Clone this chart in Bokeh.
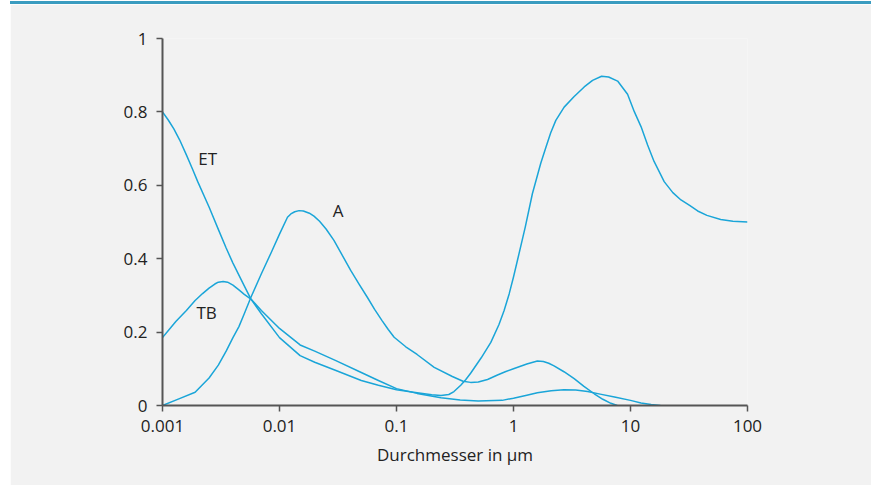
from bokeh.plotting import figure
from bokeh.models import Range1d, FixedTicker
from bokeh.core.properties import value
from bokeh.embed import file_html
from bokeh.resources import INLINE

# ---- data ----
et_x = [0.001, 0.00112, 0.00125, 0.0014, 0.0016, 0.0018, 0.002, 0.0025, 0.003, 0.0035, 0.004,
        0.005, 0.0057, 0.007, 0.01, 0.015, 0.02, 0.03, 0.05, 0.07, 0.1, 0.15, 0.2, 0.24,
        0.28, 0.31, 0.354, 0.39, 0.43, 0.53, 0.64, 0.75, 0.83, 0.918, 1.0, 1.08, 1.26, 1.45,
        1.71, 1.89, 2.08, 2.3, 2.71, 3.3, 4.02, 4.74, 5.66, 6.5, 7.76, 9.44, 10.8, 12.3, 14.0,
        15.9, 19.4, 23.0, 27.0, 32.0, 37.5, 45.0, 59.0, 75.0, 100.0]
et_y = [0.80, 0.778, 0.754, 0.724, 0.683, 0.645, 0.61, 0.541, 0.48, 0.429, 0.388,
        0.326, 0.29, 0.25, 0.185, 0.136, 0.118, 0.096, 0.068, 0.055, 0.043, 0.035, 0.029, 0.027,
        0.03, 0.038, 0.055, 0.07, 0.088, 0.13, 0.172, 0.22, 0.258, 0.304, 0.35, 0.395, 0.486, 0.577,
        0.66, 0.703, 0.743, 0.777, 0.813, 0.842, 0.868, 0.886, 0.897, 0.895, 0.884, 0.848, 0.80, 0.76, 0.71,
        0.665, 0.61, 0.58, 0.56, 0.545, 0.53, 0.518, 0.507, 0.502, 0.50]

tb_x = [0.001, 0.0013, 0.0016, 0.0019, 0.0022, 0.0025, 0.0028, 0.003, 0.0033, 0.0036, 0.004,
        0.0045, 0.005, 0.0057, 0.007, 0.01, 0.015, 0.02, 0.03, 0.05, 0.07, 0.1, 0.15, 0.24,
        0.35, 0.5, 0.8, 1.0, 1.3, 1.6, 2.1, 2.7, 3.4, 4.3, 5.5, 7.3, 10.0, 12.3, 15.0, 18.0]
tb_y = [0.185, 0.229, 0.259, 0.286, 0.305, 0.32, 0.331, 0.336, 0.338, 0.336, 0.328,
        0.315, 0.303, 0.29, 0.259, 0.21, 0.165, 0.148, 0.123, 0.09, 0.068, 0.046, 0.033, 0.021,
        0.015, 0.012, 0.014, 0.02, 0.028, 0.035, 0.04, 0.043, 0.042, 0.038, 0.031, 0.023, 0.014, 0.007, 0.003, 0.0]

a_x = [0.001, 0.00138, 0.0019, 0.0025, 0.003, 0.0035, 0.004, 0.0045, 0.005, 0.0057, 0.007,
       0.0085, 0.01, 0.0117, 0.0125, 0.0135, 0.0147, 0.016, 0.018, 0.0197, 0.022, 0.025,
       0.0292, 0.035, 0.0406, 0.048, 0.0563, 0.065, 0.075, 0.085, 0.0955, 0.12, 0.15, 0.21,
       0.3, 0.37, 0.43, 0.5, 0.6, 0.73, 0.85, 1.0, 1.3, 1.6, 1.8, 2.0, 2.22, 2.7, 3.3, 4.0,
       4.9, 5.8, 6.8, 7.7]
a_y = [0.0, 0.018, 0.036, 0.075, 0.11, 0.148, 0.185, 0.215, 0.25, 0.295, 0.359,
       0.417, 0.467, 0.513, 0.522, 0.528, 0.531, 0.53, 0.524, 0.516, 0.502, 0.481,
       0.45, 0.405, 0.368, 0.33, 0.295, 0.262, 0.232, 0.207, 0.186, 0.16, 0.139, 0.104,
       0.079, 0.066, 0.063, 0.064, 0.071, 0.083, 0.092, 0.1, 0.113, 0.121, 0.12, 0.115, 0.108, 0.092, 0.073, 0.052,
       0.032, 0.017, 0.006, 0.0]

label_text = ["ET", "TB", "A"]
label_x = [0.00243, 0.00238, 0.0317]
label_y = [0.673, 0.253, 0.531]

x_ticks = [0.001, 0.01, 0.1, 1, 10, 100]
x_tick_labels = ["0.001", "0.01", "0.1", "1", "10", "100"]
y_ticks = [0, 0.2, 0.4, 0.6, 0.8, 1]
y_tick_labels = ["0", "0.2", "0.4", "0.6", "0.8", "1"]
x_title = "Durchmesser in µm"

# ---- styling ----
FONT = "Open Sans"
LINE = "#1aa5d8"
BG = "#f2f2f2"
TXT = "#222222"

p = figure(width=861, height=484, x_axis_type="log",
           x_range=Range1d(0.001, 100), y_range=Range1d(0, 1),
           output_backend="svg", toolbar_location=None,
           min_border_left=152, min_border_right=124,
           min_border_top=34, min_border_bottom=83,
           styles={"border-top": "3px solid #3a9cc0", "margin-top": "1px",
                   "margin-left": "10px"})
p.background_fill_color = BG
p.border_fill_color = BG
p.outline_line_color = None
p.grid.visible = False

for xs, ys in ((et_x, et_y), (tb_x, tb_y), (a_x, a_y)):
    p.line(xs, ys, line_color=LINE, line_width=1.5, line_join="round")

p.text(x=label_x, y=label_y, text=label_text, text_font=value(FONT),
       text_font_size="17px", text_align="center", text_baseline="middle",
       text_color=TXT)

for ax in (p.xaxis[0], p.yaxis[0]):
    ax.axis_line_color = "#555555"
    ax.axis_line_width = 2
    ax.major_tick_line_color = "#555555"
    ax.major_tick_line_width = 1.5
    ax.major_tick_in = 0
    ax.major_tick_out = 6
    ax.minor_tick_line_color = None
    ax.major_label_text_font = FONT
    ax.major_label_text_font_size = "17px"
    ax.major_label_text_color = TXT

p.xaxis[0].ticker = FixedTicker(ticks=x_ticks)
p.xaxis[0].major_label_overrides = {t: l for t, l in zip(x_ticks, x_tick_labels)}
p.xaxis[0].major_label_standoff = 8
p.xaxis[0].axis_label = x_title
p.xaxis[0].axis_label_text_font = FONT
p.xaxis[0].axis_label_text_font_size = "17px"
p.xaxis[0].axis_label_text_font_style = "normal"
p.xaxis[0].axis_label_text_color = TXT
p.xaxis[0].axis_label_standoff = 8

p.yaxis[0].ticker = FixedTicker(ticks=y_ticks)
p.yaxis[0].major_label_overrides = {t: l for t, l in zip(y_ticks, y_tick_labels)}
p.yaxis[0].major_label_standoff = 9

open("out.html", "w").write(file_html(p, INLINE))
